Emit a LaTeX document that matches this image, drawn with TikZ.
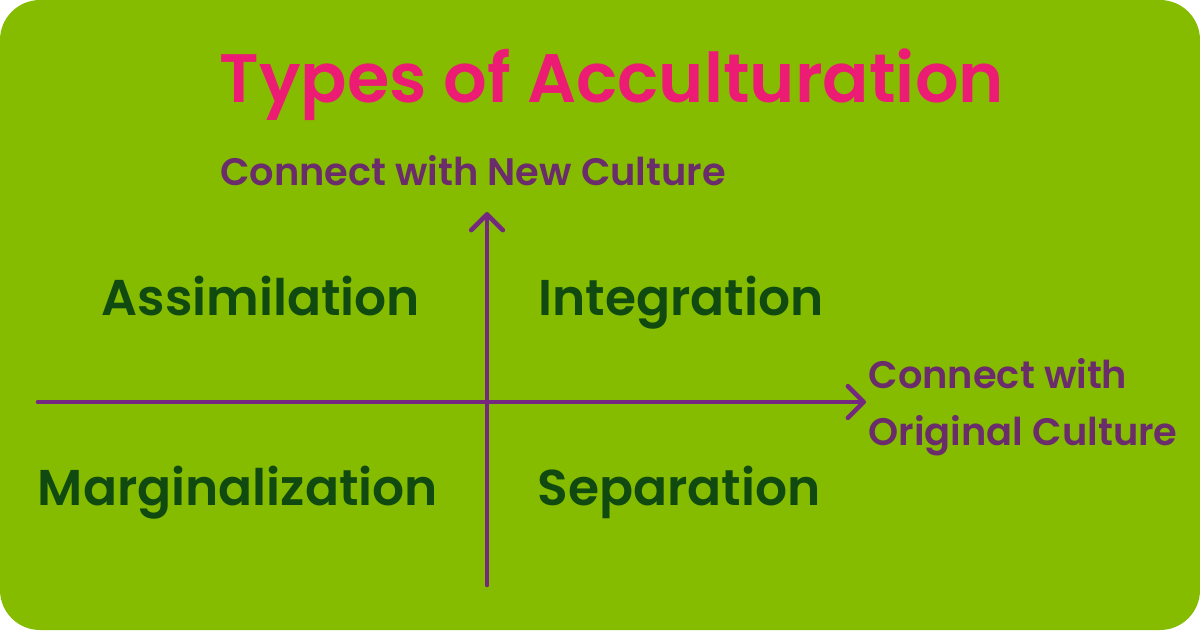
\documentclass[tikz,border=0pt]{standalone}
\usepackage{fontspec}
\setmainfont{Poppins}[BoldFont={Poppins SemiBold}]
\usetikzlibrary{arrows.meta}
\definecolor{bggreen}{HTML}{86BC00}
\definecolor{titlepink}{HTML}{EC1C74}
\definecolor{axispurple}{HTML}{74287F}
\definecolor{labelpurple}{HTML}{6A2C6B}
\definecolor{typegreen}{HTML}{114A10}
\tikzset{>={Straight Barb[length=4.5pt,width=9pt,round]}}
\tikzset{
    axislabel/.style={text=labelpurple,inner sep=0pt,anchor=base,font=\bfseries\fontsize{10.9}{16}\selectfont},
    typelabel/.style={text=typegreen,inner sep=0pt,anchor=base,font=\bfseries\fontsize{14.3}{18}\selectfont},
}

\begin{document}
\begin{tikzpicture}[x=0.01cm,y=-0.01cm]
    \useasboundingbox (0,0) rectangle (1200,630);
    \fill[white] (0,0) rectangle (1200,630);
    \fill[bggreen,rounded corners=0.4cm] (0,0) rectangle (1200,630);

    \node[text=titlepink,inner sep=0pt,anchor=base,font=\bfseries\fontsize{19.5}{22}\selectfont] (title) at (612,102) {Types of Acculturation};

    \coordinate (L) at (38,402);
    \coordinate (R) at (866,402);
    \coordinate (B) at (487,585);
    \coordinate (T) at (487,212);

    \draw[->,axispurple,line width=1.3pt,line cap=round](L)--(R);
    \draw[->,axispurple,line width=1.3pt,line cap=round](B)--(T);

    \node[axislabel] (newc) at (473,185) {Connect with New Culture};
    \node[axislabel,anchor=base west] (origc) at (868,388) {Connect with};
    \node[axislabel,anchor=base west] (origc2) at (868,445) {Original Culture};

    \node[typelabel] (assim) at (261,315) {Assimilation};
    \node[typelabel] (integ) at (681,315) {Integration};
    \node[typelabel] (margin) at (238,505) {Marginalization};
    \node[typelabel] (separ) at (679,505) {Separation};
\end{tikzpicture}
\end{document}
